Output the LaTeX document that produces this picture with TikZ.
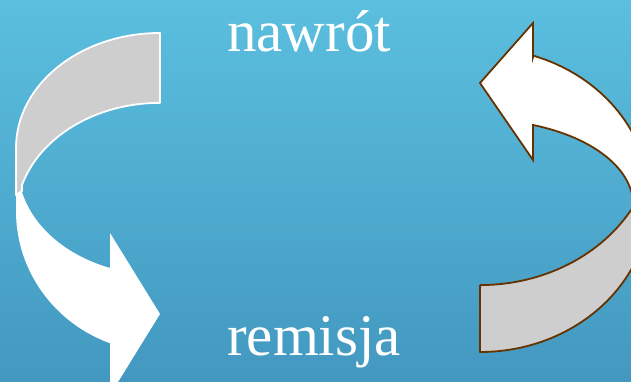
\documentclass[tikz,border=0pt]{standalone}
\usepackage{fontspec}
\setmainfont{Liberation Serif}
\definecolor{skytop}{RGB}{91,191,223}
\definecolor{skybottom}{RGB}{67,152,192}
\definecolor{arrowgrey}{RGB}{206,206,206}
\definecolor{rimbrown}{RGB}{102,51,0}
\begin{document}
\begin{tikzpicture}[x=1pt,y=1pt,
  word/.style={text=white,inner sep=0pt,anchor=base west,font=\fontsize{59}{61}\selectfont},
  backpart/.style={fill=arrowgrey,line width=1.8pt,line join=round},
  frontpart/.style={fill=white,line width=1.8pt,line join=miter}]
\useasboundingbox (0,0) rectangle (631,381);
\shade[top color=skytop,bottom color=skybottom] (0,0) rectangle (631,381);
\clip (0,0) rectangle (631,381);
% left arrow, back then front
\draw[backpart,draw=white] (160,348) arc[start angle=90,end angle=180,x radius=144,y radius=115]
  -- (16,186) -- (22,190) -- (22,196) arc[start angle=163.4,end angle=90,x radius=144,y radius=115] -- cycle;
\fill[white] (16,187) -- (16,170) arc[start angle=180,end angle=249.7,x radius=144,y radius=141]
  -- (110,-14) -- (160,67) -- (110,148) -- (110,113)
  arc[start angle=249.4,end angle=193.6,x radius=142,y radius=108.6] -- cycle;
% right arrow
\draw[backpart,draw=rimbrown] (480,29) arc[start angle=270,end angle=360,x radius=170,y radius=152]
  -- (633,174) arc[start angle=-29.1,end angle=-90,x radius=175,y radius=152] -- cycle;
\draw[frontpart,draw=rimbrown] (533,324) -- (533,358) -- (480,298) -- (533,221) -- (533,256)
  arc[start angle=69.8,end angle=0,x radius=153,y radius=85] -- (650,181)
  arc[start angle=0,end angle=71.7,x radius=170,y radius=152] -- cycle;
\node[word] (nawrot) at (227,329) {nawrót};
\node[word] (remisja) at (227,26) {remisja};
\end{tikzpicture}
\end{document}
